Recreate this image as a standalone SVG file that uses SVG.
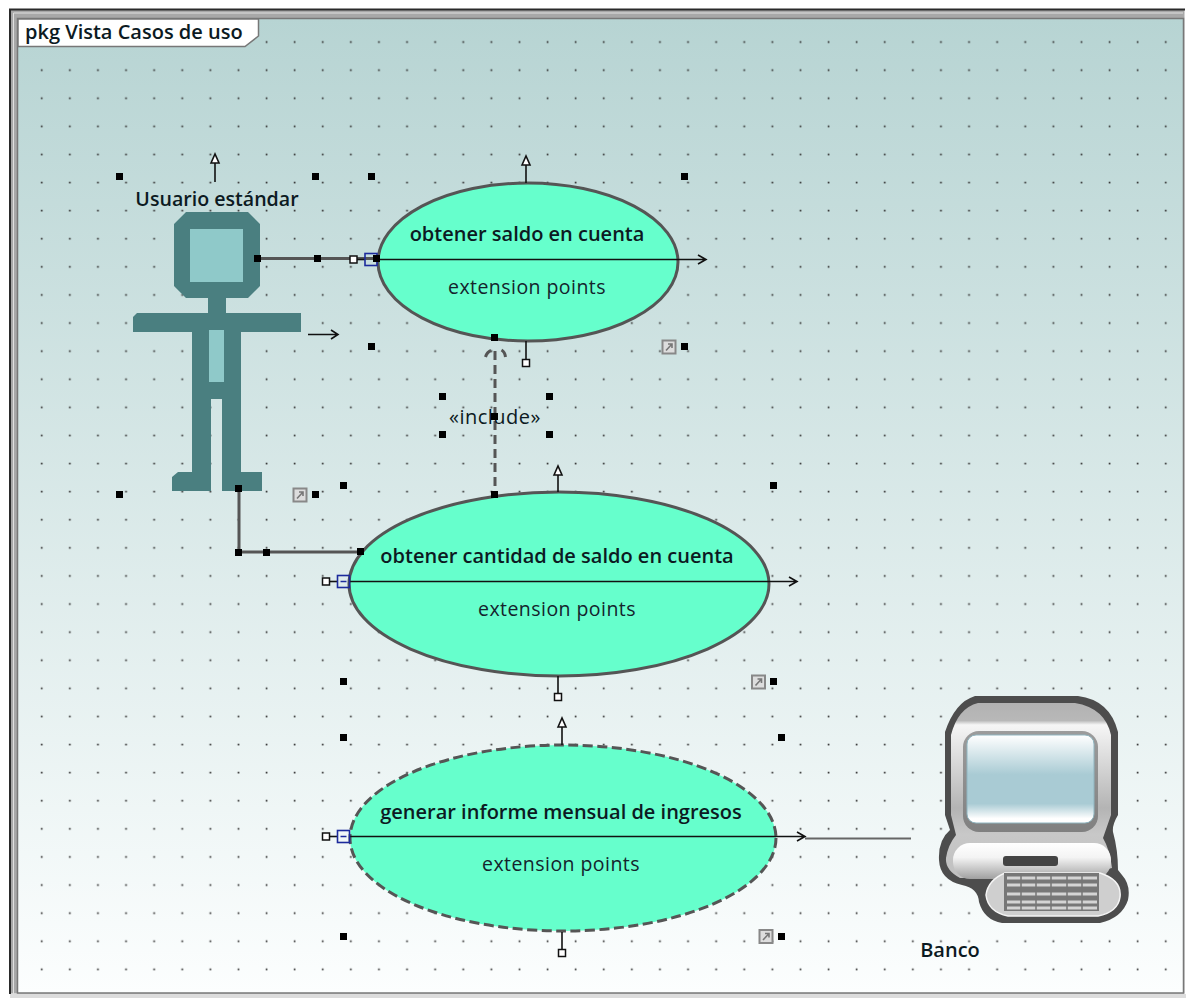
<svg xmlns="http://www.w3.org/2000/svg" width="1190" height="998" viewBox="0 0 1190 998">
<style>
text{font-family:"Open Sans","Noto Sans","Liberation Sans",sans-serif;fill:#0c1a22}
.t{font-size:20px;font-weight:600;text-anchor:middle}
.e{font-size:19.5px;letter-spacing:.45px;text-anchor:middle;fill:#14242c}
.uc{fill:#66ffcc;stroke:#555;stroke-width:3}
.h{fill:#000}
.thin{stroke:#111;stroke-width:1.6;fill:none}
.conn{stroke:#555;stroke-width:3;fill:none}
.actor{fill:#4a7f80}
.light{fill:#8fc9c9}
.box{fill:#fff;stroke:#111;stroke-width:1.5}
.blue{fill:none;stroke:#1c2a9c;stroke-width:1.6}
.link{fill:#ddd;stroke:#888;stroke-width:2}
</style>
<defs>
<linearGradient id="bg" x1="0" y1="0" x2="0" y2="1"><stop offset="0" stop-color="#b7d4d3"/><stop offset="1" stop-color="#fcfefe"/></linearGradient>
<pattern id="dots" patternUnits="userSpaceOnUse" x="27.6" y="27.9" width="28.1" height="28.1"><rect x="13.3" y="13.3" width="1.7" height="1.7" fill="#333"/></pattern>
<linearGradient id="scr" x1="0" y1="0" x2="0" y2="1"><stop offset="0" stop-color="#fff"/><stop offset=".45" stop-color="#a9cbd4"/><stop offset=".78" stop-color="#a9cbd4"/><stop offset=".95" stop-color="#fff"/></linearGradient>
<linearGradient id="mon" x1="0" y1="0" x2="0" y2="1"><stop offset="0" stop-color="#b2b2b2"/><stop offset=".1" stop-color="#b8b8b8"/><stop offset=".125" stop-color="#f6f6f6"/><stop offset=".6" stop-color="#b4b4b4"/><stop offset=".75" stop-color="#c8c8c8"/><stop offset="1" stop-color="#c0c0c0"/></linearGradient>
<linearGradient id="basebar" x1="0" y1="0" x2="0" y2="1"><stop offset="0" stop-color="#fff"/><stop offset=".4" stop-color="#f4f4f4"/><stop offset="1" stop-color="#a0a0a0"/></linearGradient>
<linearGradient id="bezel" x1="0" y1="0" x2="0" y2="1"><stop offset="0" stop-color="#9c9c9c"/><stop offset="1" stop-color="#808080"/></linearGradient>
<symbol id="linkic" overflow="visible"><rect x="-6.5" y="-6.5" width="13" height="13" class="link"/><path d="M-3 3.5L3 -3M-1 -3H3V1" fill="none" stroke="#777" stroke-width="1.6"/></symbol>
</defs>
<rect width="1190" height="998" fill="#fff"/>
<g id="frame">
<rect x="10.5" y="9.500" width="1174" height="984" fill="#a8a8a8" stroke="none"/>
<rect x="10" y="994" width="1176" height="4" fill="#dcdcdc"/>
<path d="M10 994V9.500H1185" fill="none" stroke="#2a2a2a" stroke-width="2"/>
<path d="M13.500 994V13H1183" fill="none" stroke="#e0e0e0" stroke-width="1"/>
<rect x="17.500" y="18.500" width="1166" height="974.500" fill="url(#bg)" stroke="#777" stroke-width="1.500"/>
<rect x="18" y="19" width="1165" height="974" fill="url(#dots)"/>
</g>
<g id="label">
<path d="M18 19H258.500V36L245 46.500H18Z" fill="#fff" stroke="#777" stroke-width="1.500"/>
<text x="25" y="39" style="font-size:20px;font-weight:600">pkg Vista Casos de uso</text>
</g>
<g id="connectors">
<path class="conn" d="M258 258.500H378"/>
<path class="conn" d="M239 489V552H361"/>
<path class="conn" stroke-dasharray="9 5" d="M495 351V494"/>
<path class="conn" d="M485.500 357Q487 352 491 350.500M501.500 350Q505 352 505.500 357"/>
<path d="M805 838.500H911" stroke="#666" stroke-width="2" fill="none"/>
</g>
<g id="uc1">
<ellipse class="uc" cx="528" cy="262" rx="150" ry="79"/>
<path class="thin" d="M378 259.500H695M698 255l8 4.500-8 4.500M695 259.500h11"/>
<path class="thin" d="M526 183V165M522 165l4-9 4 9z" style="fill:#fff"/>
<path class="thin" d="M526 341V360"/><rect class="box" x="522.500" y="359.500" width="7" height="7"/>
<rect class="box" x="350" y="256" width="7" height="7"/><path class="thin" d="M357 259.500H365"/>
<rect class="blue" x="365" y="253.500" width="12" height="12"/>
<text class="t" x="527" y="241">obtener saldo en cuenta</text>
<text class="e" x="527" y="294">extension points</text>
</g>
<g id="uc2">
<ellipse class="uc" cx="559" cy="584" rx="210" ry="92"/>
<path class="thin" d="M350 581.500H786M789 577l8 4.500-8 4.500M786 581.500h11"/>
<path class="thin" d="M558 492V475M554 475l4-9 4 9z" style="fill:#fff"/>
<path class="thin" d="M558 676V693"/><rect class="box" x="554.500" y="693.500" width="7" height="7"/>
<rect class="box" x="322.500" y="578" width="7" height="7"/><path class="thin" d="M329.500 581.500H337"/>
<rect class="blue" x="337.500" y="575.500" width="12" height="12"/><path d="M340.500 581.500h6" stroke="#1c2a9c" stroke-width="1.500"/>
<text class="t" x="557" y="563">obtener cantidad de saldo en cuenta</text>
<text class="e" x="557" y="616">extension points</text>
</g>
<g id="uc3">
<ellipse class="uc" cx="563" cy="838" rx="213" ry="93" stroke-width="3.500" stroke-dasharray="10 4.500"/>
<path class="thin" d="M350 836.500H794M797 832l8 4.500-8 4.500M794 836.500h11"/>
<path class="thin" d="M562 745V727M558 727l4-9 4 9z" style="fill:#fff"/>
<path class="thin" d="M562 932V949"/><rect class="box" x="558.500" y="949.500" width="7" height="7"/>
<rect class="box" x="322.500" y="833" width="7" height="7"/><path class="thin" d="M329.500 836.500H337"/>
<rect class="blue" x="337.500" y="830.500" width="12" height="12"/><path d="M340.500 836.500h6" stroke="#1c2a9c" stroke-width="1.500"/>
<text class="t" x="561" y="819">generar informe mensual de ingresos</text>
<text class="e" x="561" y="871">extension points</text>
</g>
<g id="actor">
<path class="actor" d="M186 212H248L260 224V286L248 298H226V313H301V332H241V472H262V491H222V399H211V491H172V477L178 472H192V332H133V317L137 313H208V298H186L174 286V224Z"/>
<rect class="light" x="190" y="229" width="53" height="53"/>
<rect class="light" x="209" y="330" width="15" height="52"/>
<path class="thin" d="M215 182V163M211 163l4-9 4 9z" style="fill:#fff"/>
<path class="thin" d="M308 334.500H337M331 330l7 4.500-7 4.500"/>
<text x="217" y="206" style="font-size:19.600px;font-weight:600;text-anchor:middle">Usuario estándar</text>
</g>
<g id="includeLabel"><text x="495" y="424" style="font-size:20px;letter-spacing:.5px;text-anchor:middle">«include»</text></g>
<g id="banco">
<path fill="#4d4d4d" d="M975 696H1078Q1110 700 1118 732V815Q1112 825 1113 832Q1118 850 1118 870L1122 875Q1131 885 1128 900Q1122 918 1100 923H1002Q984 920 979 902Q978 888 962 885Q940 880 939 860Q938 840 950 830L945 815V732Q955 702 975 696Z"/>
<path fill="url(#mon)" d="M978 703H1075Q1105 708 1111 735V815L1103 838H1103Q1110 850 1112 868L1070 878H960Q945 870 946 858Q948 845 956 835L951 815V735Q958 708 978 703Z"/>
<rect x="963" y="731" width="135" height="101" rx="16" fill="url(#bezel)"/>
<rect x="967" y="735" width="127" height="88" rx="9" fill="url(#scr)" stroke="#8fb5c0" stroke-width="1"/>
<rect x="953" y="843" width="158" height="36" rx="17" fill="url(#basebar)"/>
<rect x="1003" y="856" width="55" height="10" rx="3" fill="#444"/>
<path fill="#cfcfcf" stroke="#f5f5f5" stroke-width="1.500" d="M1005 873H1100Q1122 880 1120 897Q1118 912 1098 916H1008Q988 912 986 895Q988 880 1005 873Z"/>
<rect x="1004" y="873" width="95" height="38" fill="#777"/>
<path stroke="#d4d4d4" stroke-width="3" d="M1007 878h90M1007 885h90M1007 894h90M1007 902h90M1007 908h90" fill="none"/>
<path stroke="#777" stroke-width="1.500" d="M1021 873v38M1036 873v38M1051 873v38M1067 873v38M1082 873v38" fill="none"/>
<text x="950" y="957" style="font-size:20px;font-weight:600;text-anchor:middle">Banco</text>
</g>
<g id="handles" class="h">
<rect x="116" y="173" width="7" height="7"/><rect x="312" y="173" width="7" height="7"/><rect x="368" y="173" width="7" height="7"/><rect x="681" y="173" width="7" height="7"/>
<rect x="254" y="255" width="7" height="7"/><rect x="314" y="255" width="7" height="7"/><rect x="373" y="255" width="7" height="7"/>
<rect x="368" y="343" width="7" height="7"/><rect x="681" y="343" width="7" height="7"/><rect x="491" y="334" width="7" height="7"/>
<rect x="439" y="393" width="7" height="7"/><rect x="546" y="393" width="7" height="7"/><rect x="439" y="431" width="7" height="7"/><rect x="546" y="431" width="7" height="7"/><rect x="491" y="413" width="7" height="7"/>
<rect x="116" y="491" width="7" height="7"/><rect x="312" y="491" width="7" height="7"/><rect x="340" y="482" width="7" height="7"/><rect x="770" y="482" width="7" height="7"/><rect x="491" y="491" width="7" height="7"/><rect x="235" y="485" width="7" height="7"/>
<rect x="235" y="549" width="7" height="7"/><rect x="263" y="549" width="7" height="7"/><rect x="357" y="548" width="7" height="7"/>
<rect x="340" y="678" width="7" height="7"/><rect x="770" y="678" width="7" height="7"/><rect x="340" y="734" width="7" height="7"/><rect x="778" y="734" width="7" height="7"/><rect x="340" y="933" width="7" height="7"/><rect x="778" y="933" width="7" height="7"/>
</g>
<g id="links">
<use href="#linkic" x="669" y="347"/><use href="#linkic" x="300" y="495"/><use href="#linkic" x="758.500" y="682"/><use href="#linkic" x="766" y="936.500"/>
</g>
</svg>
